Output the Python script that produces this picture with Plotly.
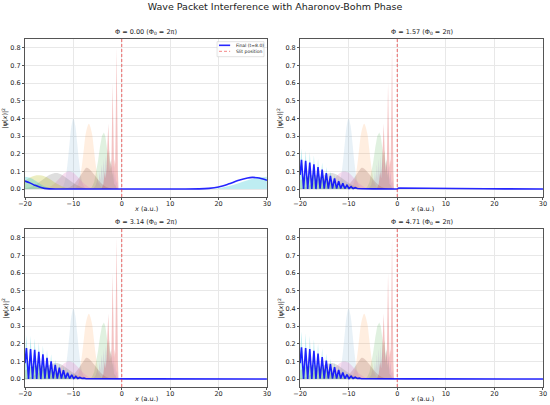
import plotly.graph_objects as go
from plotly.subplots import make_subplots

# flux values for the four panels and the slit position
fluxes = [0.00, 1.57, 3.14, 4.71]
slit_x = 0

# snapshot colours (matplotlib tab10 order)
snap_colors = ["#1f77b4", "#ff7f0e", "#2ca02c", "#d62728", "#9467bd",
               "#8c564b", "#e377c2", "#7f7f7f", "#bcbd22", "#17becf"]
snap_alpha = [0.10, 0.13, 0.15, 0.28, 0.18, 0.22, 0.24, 0.26, 0.28, 0.28]

# snapshots (same in every panel)
snap0_x = [-13.2, -12.6, -12.0, -11.6, -11.2, -10.8, -10.4, -10.0, -9.6, -9.2, -8.8, -8.4, -8.0, -7.4, -6.8]
snap0_y = [0.0, 0.004, 0.025, 0.068, 0.148, 0.257, 0.358, 0.40, 0.358, 0.257, 0.148, 0.068, 0.025, 0.004, 0.0]

snap1_x = [-10.2, -9.6, -9.0, -8.6, -8.2, -7.8, -7.4, -6.8, -6.2, -5.8, -5.4, -5.0, -4.6, -4.0, -3.4]
snap1_y = [0.0, 0.005, 0.028, 0.07, 0.14, 0.235, 0.32, 0.37, 0.32, 0.235, 0.14, 0.07, 0.028, 0.005, 0.0]

snap2_x = [-6.8, -6.2, -5.7, -5.3, -4.9, -4.5, -4.1, -3.7, -3.4, -3.1, -2.85, -2.6, -2.4, -2.2, -2.0, -1.8, -1.6, -1.3, -1.0]
snap2_y = [0.0, 0.01, 0.04, 0.09, 0.16, 0.24, 0.30, 0.32, 0.30, 0.24, 0.19, 0.22, 0.14, 0.17, 0.08, 0.10, 0.03, 0.02, 0.0]

snap3_x = [-4.2, -3.8, -3.5, -3.3, -3.15, -2.78, -2.45, -2.3, -2.15, -1.89, -1.6, -1.45, -1.35, -1.07, -0.8, -0.66]
snap3_y = [0.0, 0.03, 0.10, 0.06, 0.12, 0.37, 0.10, 0.16, 0.12, 0.60, 0.12, 0.17, 0.14, 0.80, 0.10, 0.0]

snap4_x = [-6.0, -5.4, -5.0, -4.8, -4.6, -4.4, -4.2, -4.0, -3.8, -3.6, -3.4, -3.2, -3.0, -2.8,
           -2.6, -2.4, -2.2, -2.0, -1.8, -1.6, -1.4, -1.2, -1.0, -0.8]
snap4_y = [0.0, 0.02, 0.06, 0.03, 0.10, 0.05, 0.14, 0.06, 0.17, 0.07, 0.19, 0.08, 0.20, 0.08,
           0.19, 0.07, 0.17, 0.06, 0.14, 0.05, 0.10, 0.03, 0.05, 0.0]

snap5_x = [-12.8, -11.8, -10.8, -9.8, -8.8, -7.8, -7.3, -6.8, -5.8, -4.8, -3.8, -2.8, -1.8]
snap5_y = [0.0, 0.003, 0.01, 0.03, 0.065, 0.105, 0.12, 0.115, 0.085, 0.05, 0.022, 0.007, 0.0]

snap6_x = [-17.0, -16.0, -15.0, -14.0, -13.0, -12.0, -11.0, -10.0, -9.0, -8.0, -7.0, -6.0, -5.0]
snap6_y = [0.0, 0.003, 0.011, 0.029, 0.057, 0.087, 0.10, 0.092, 0.065, 0.036, 0.015, 0.004, 0.0]

snap7_x = [-20.0, -19.0, -18.0, -17.0, -16.0, -15.0, -14.0, -13.0, -12.0, -11.0, -10.0, -9.0, -8.0, -7.0, -6.0]
snap7_y = [0.004, 0.01, 0.022, 0.04, 0.06, 0.079, 0.09, 0.088, 0.074, 0.054, 0.034, 0.018, 0.008, 0.003, 0.0]

snap8_x = [-20.0, -19.0, -18.0, -17.0, -16.0, -15.0, -14.0, -13.0, -12.0, -11.0, -10.0, -9.0]
snap8_y = [0.048, 0.065, 0.076, 0.078, 0.072, 0.058, 0.04, 0.024, 0.012, 0.005, 0.002, 0.0]

# last snapshot, different for every panel
cyan0_x = [-20.0, -19.0, -18.0, -17.0, -16.0, -15.0, -14.0, None,
           18.0, 20.0, 22.0, 24.0, 26.0, 28.0, 30.0]
cyan0_y = [0.07, 0.064, 0.05, 0.032, 0.016, 0.006, 0.0, None,
           0.0, 0.005, 0.016, 0.032, 0.05, 0.064, 0.07]

osc_x = [-20.0, -19.7, -19.28, -18.85, -18.43, -18.0, -17.58, -17.15, -16.73, -16.3, -15.88,
         -15.45, -15.03, -14.6, -14.18, -13.75, -13.33, -12.9, -12.48, -12.05, -11.63,
         -11.2, -10.78, -10.35, -9.93, -9.5, -9.08, -8.65, -8.23, -7.8, -7.38]
cyan1_y = [0.12, 0.23, 0.01, 0.22, 0.01, 0.21, 0.01, 0.19, 0.01, 0.17, 0.01, 0.15, 0.01, 0.125, 0.01,
           0.10, 0.008, 0.08, 0.006, 0.06, 0.005, 0.045, 0.004, 0.03, 0.003, 0.02, 0.002, 0.012, 0.001, 0.006, 0.0]
cyan2_y = [0.13, 0.25, 0.01, 0.245, 0.01, 0.23, 0.01, 0.21, 0.01, 0.19, 0.01, 0.165, 0.01, 0.14, 0.01,
           0.11, 0.008, 0.09, 0.006, 0.07, 0.005, 0.05, 0.004, 0.035, 0.003, 0.022, 0.002, 0.014, 0.001, 0.007, 0.0]
cyan3_y = [0.14, 0.27, 0.01, 0.26, 0.01, 0.245, 0.01, 0.225, 0.01, 0.20, 0.01, 0.175, 0.01, 0.145, 0.01,
           0.115, 0.008, 0.092, 0.006, 0.07, 0.005, 0.05, 0.004, 0.035, 0.003, 0.022, 0.002, 0.014, 0.001, 0.007, 0.0]

# final wave function |psi|^2 at t=8.0
final0_x = [-20.0, -19.0, -18.0, -17.0, -16.0, -15.0, -12.0, 0.0, 10.0, 16.0, 18.0, 20.0,
            22.0, 24.0, 26.0, 27.0, 28.0, 29.0, 30.0]
final0_y = [0.045, 0.035, 0.022, 0.011, 0.004, 0.001, 0.0, 0.0, 0.0, 0.001, 0.004, 0.012,
            0.028, 0.048, 0.063, 0.066, 0.064, 0.058, 0.05]

tail_x = [-5.0, -2.0, 0.0, 0.3, 2.0, 6.0, 10.0, 14.0, 18.0, 22.0, 30.0]
final1_y = [0.08, 0.165, 0.0, 0.16, 0.0, 0.15, 0.0, 0.14, 0.0, 0.125, 0.002, 0.11, 0.002, 0.09, 0.003,
            0.075, 0.003, 0.06, 0.003, 0.045, 0.003, 0.032, 0.003, 0.022, 0.003, 0.014, 0.003, 0.008, 0.003, 0.004, 0.002,
            0.001, 0.0, 0.0, 0.006, 0.006, 0.005, 0.004, 0.003, 0.002, 0.001, 0.0]
final2_y = [0.09, 0.175, 0.0, 0.17, 0.0, 0.165, 0.0, 0.155, 0.0, 0.14, 0.002, 0.12, 0.002, 0.10, 0.003,
            0.08, 0.003, 0.065, 0.003, 0.05, 0.003, 0.035, 0.003, 0.024, 0.003, 0.015, 0.003, 0.009, 0.003, 0.005, 0.002,
            0.001, 0.0, 0.0, 0.001, 0.001, 0.001, 0.001, 0.0, 0.0, 0.0, 0.0]
final3_y = [0.09, 0.18, 0.0, 0.175, 0.0, 0.17, 0.0, 0.16, 0.0, 0.145, 0.002, 0.125, 0.002, 0.105, 0.003,
            0.085, 0.003, 0.068, 0.003, 0.052, 0.003, 0.037, 0.003, 0.025, 0.003, 0.016, 0.003, 0.01, 0.003, 0.005, 0.002,
            0.001, 0.0, 0.0, 0.001, 0.001, 0.001, 0.001, 0.0, 0.0, 0.0, 0.0]

shared_snaps = [(snap0_x, snap0_y, "spline"), (snap1_x, snap1_y, "spline"), (snap2_x, snap2_y, "linear"),
                (snap3_x, snap3_y, "linear"), (snap4_x, snap4_y, "linear"), (snap5_x, snap5_y, "spline"),
                (snap6_x, snap6_y, "spline"), (snap7_x, snap7_y, "spline"), (snap8_x, snap8_y, "spline")]
cyan_snaps = [(cyan0_x, cyan0_y, "spline"), (osc_x + [-5.0], cyan1_y + [0.0], "linear"),
              (osc_x + [-5.0], cyan2_y + [0.0], "linear"), (osc_x + [-5.0], cyan3_y + [0.0], "linear")]
finals = [(final0_x, final0_y, "spline"), (osc_x + tail_x, final1_y, "linear"),
          (osc_x + tail_x, final2_y, "linear"), (osc_x + tail_x, final3_y, "linear")]


def rgba(hex_color, a):
    h = hex_color.lstrip("#")
    return "rgba(%d,%d,%d,%g)" % (int(h[0:2], 16), int(h[2:4], 16), int(h[4:6], 16), a)


TXT = "#222"
FINAL_COLOR = "rgba(0,0,255,0.85)"
SLIT_COLOR = "rgba(235,40,40,0.7)"
fig = make_subplots(rows=2, cols=2)

for i, phi in enumerate(fluxes):
    row, col = i // 2 + 1, i % 2 + 1
    sfx = "" if i == 0 else str(i + 1)
    snaps = shared_snaps + [cyan_snaps[i]]
    for k, (sx, sy, shape) in enumerate(snaps):
        fig.add_trace(go.Scatter(x=sx, y=sy, mode="lines", line=dict(width=0, shape=shape),
                                 fill="tozeroy", fillcolor=rgba(snap_colors[k], snap_alpha[k]),
                                 showlegend=False, hoverinfo="skip"), row=row, col=col)
    fx, fy, shape = finals[i]
    fig.add_trace(go.Scatter(x=fx, y=fy, mode="lines", name="Final (t=8.0)",
                             line=dict(color=FINAL_COLOR, width=1.6, shape=shape),
                             showlegend=False), row=row, col=col)
    fig.add_vline(x=slit_x, line=dict(color=SLIT_COLOR, width=1, dash="3px,2px"), row=row, col=col)
    fig.add_annotation(text="Φ = %.2f (Φ<sub>0</sub> = 2π)" % phi, xref="x%s domain" % sfx,
                       yref="y%s domain" % sfx, x=0.5, y=1, yanchor="bottom",
                       yshift=1, showarrow=False, font=dict(size=6.5, color=TXT))
    fig.add_annotation(text="<i>x</i> (a.u.)", xref="x%s domain" % sfx, yref="y%s domain" % sfx,
                       x=0.5, y=0, yanchor="top", yshift=-6, showarrow=False, font=dict(size=6.5, color=TXT))
    fig.add_annotation(text="|ψ(<i>x</i>)|<sup>2</sup>", xref="x%s domain" % sfx, yref="y%s domain" % sfx,
                       x=0, y=0.5, xanchor="right", xshift=-13, textangle=-90, showarrow=False,
                       font=dict(size=6.5, color=TXT))

# compact legend box in the first panel
fig.add_shape(type="rect", xref="x domain", yref="y domain", x0=0.794, x1=0.988, y0=0.888, y1=0.983,
              line=dict(color="#d0d0d0", width=0.6), fillcolor="rgba(255,255,255,0.8)")
fig.add_shape(type="line", xref="x domain", yref="y domain", x0=0.802, x1=0.848, y0=0.960, y1=0.960,
              line=dict(color=FINAL_COLOR, width=1.6))
fig.add_shape(type="line", xref="x domain", yref="y domain", x0=0.802, x1=0.848, y0=0.922, y1=0.922,
              line=dict(color=SLIT_COLOR, width=0.8, dash="3px,2px"))
for label, ly in [("Final (t=8.0)", 0.960), ("Slit position", 0.922)]:
    fig.add_annotation(text=label, xref="x domain", yref="y domain", x=0.866, y=ly, xanchor="left",
                       yanchor="middle", showarrow=False, font=dict(size=4.5, color=TXT))

x_domains = [[0, 0.467], [0.531, 1]]
y_domains = [[0.546, 1], [0, 0.454]]
for i in range(4):
    r, c = i // 2, i % 2
    fig.update_xaxes(domain=x_domains[c], row=r + 1, col=c + 1)
    fig.update_yaxes(domain=y_domains[r], row=r + 1, col=c + 1)

fig.update_xaxes(range=[-20, 30], tickvals=[-20, -10, 0, 10, 20, 30], showgrid=True, gridcolor="#e8e8e8",
                 zeroline=False, showline=True, linecolor="#555", linewidth=1, mirror=True,
                 ticks="outside", ticklen=2, tickcolor="#555", tickfont=dict(size=6.5, color=TXT),
                 ticklabelstandoff=-2, automargin=False)
fig.update_yaxes(range=[-0.045, 0.85], tickvals=[0, 0.1, 0.2, 0.3, 0.4, 0.5, 0.6, 0.7, 0.8], tickformat=".1f",
                 showgrid=True, gridcolor="#e8e8e8", zeroline=False, showline=True, linecolor="#555",
                 linewidth=1, mirror=True, ticks="outside", ticklen=2, tickcolor="#555",
                 tickfont=dict(size=6.5, color=TXT), automargin=False)

fig.update_layout(
    width=550, height=405,
    margin=dict(l=25, r=7, t=39, b=18),
    paper_bgcolor="white", plot_bgcolor="white",
    font=dict(family="DejaVu Sans"),
    showlegend=False,
    title=dict(text="Wave Packet Interference with Aharonov-Bohm Phase", x=0.5, xanchor="center",
               y=0.983, yanchor="middle", font=dict(size=9.5, color=TXT)),
)

# drop the browser's default page margin so the figure fills the window
fig.write_html("out.html", config={"displayModeBar": False},
               post_script="document.body.style.margin = '0';")
